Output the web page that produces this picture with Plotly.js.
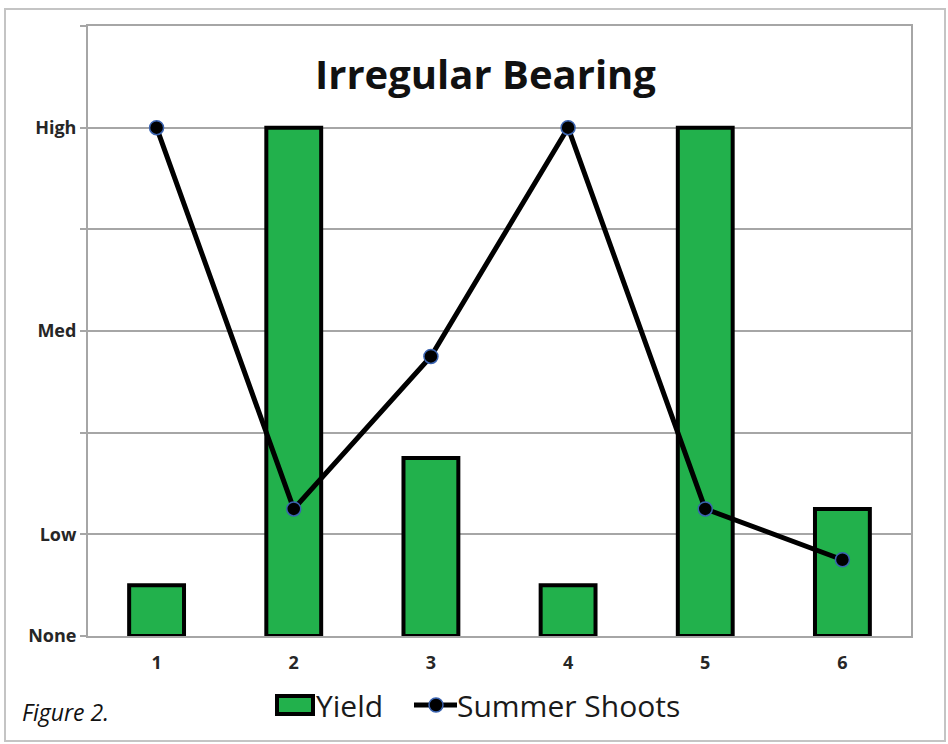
<!DOCTYPE html>
<html>
<head>
<meta charset="utf-8">
<script src="https://cdn.plot.ly/plotly-3.0.1.min.js"></script>
<style>
html,body{margin:0;padding:0;background:#fff;}
#wrap{position:relative;width:948px;height:744px;}
#chart{width:948px;height:744px;}
#frame{position:absolute;left:4px;top:8px;width:938px;height:730px;border:2px solid #c4c4c4;pointer-events:none;}
</style>
</head>
<body>
<div id="wrap"><div id="chart"></div><div id="frame"></div></div>
<script>
const years = ['1','2','3','4','5','6'];
const yieldValues = [0.5, 5, 1.75, 0.5, 5, 1.25];
const shootValues = [5, 1.25, 2.75, 5, 1.25, 0.75];
const levelValues = [0, 1, 2, 3, 4, 5, 6];
const levelLabels = ['None', 'Low', '', 'Med', '', 'High', ''];

const barColor = '#22b14c';
const PL = 88, PR = 37, PT = 26, PB = 108, W = 948, H = 744;
const pw = W - PL - PR, ph = H - PT - PB;
const px = v => (v - PL) / pw;
const py = v => (H - PB - v) / ph;

const traces = [
  {
    type: 'bar', name: 'Yield', x: years, y: yieldValues, width: 0.4,
    marker: {color: barColor, line: {color: '#000', width: 4}}
  },
  {
    type: 'scatter', mode: 'lines+markers', name: 'Summer Shoots', x: years, y: shootValues,
    line: {color: '#000', width: 5},
    marker: {color: '#000', size: 14, line: {color: '#3a63b0', width: 1.5}}
  }
];

const legY = 705;
const layout = {
  width: W, height: H,
  margin: {l: PL, r: PR, t: PT, b: PB},
  paper_bgcolor: '#fff', plot_bgcolor: '#fff',
  font: {family: 'Open Sans, sans-serif', color: '#1a1a1a'},
  title: {
    text: '<b>Irregular Bearing</b>',
    font: {size: 40, family: 'Open Sans, sans-serif', color: '#111'},
    x: 0.483, xanchor: 'center', xref: 'paper',
    y: 0.92, yanchor: 'middle', yref: 'paper'
  },
  showlegend: false,
  xaxis: {
    type: 'category', range: [-0.5, 5.5],
    showgrid: false, showline: true, linecolor: '#a6a6a6', linewidth: 2, mirror: true,
    ticks: '', tickfont: {size: 18, weight: 'bold', color: '#262626'}, ticklabelstandoff: 9
  },
  yaxis: {
    range: [0, 6], tickmode: 'array', tickvals: levelValues, ticktext: levelLabels,
    showgrid: true, gridcolor: '#a6a6a6', gridwidth: 2,
    showline: true, linecolor: '#a6a6a6', linewidth: 2, mirror: true,
    ticks: 'outside', ticklen: 6, tickcolor: '#a6a6a6', tickwidth: 2,
    tickfont: {size: 18, weight: 'bold', color: '#262626'}, zeroline: false, ticklabelstandoff: 0
  },
  shapes: [
    {type: 'rect', xref: 'paper', yref: 'paper', x0: px(277), x1: px(313), y0: py(714), y1: py(696),
     fillcolor: barColor, line: {color: '#000', width: 4}},
    {type: 'line', xref: 'paper', yref: 'paper', x0: px(414), x1: px(457), y0: py(legY), y1: py(legY),
     line: {color: '#000', width: 5}},
    {type: 'circle', xref: 'paper', yref: 'paper', x0: px(429), x1: px(443), y0: py(712), y1: py(698),
     fillcolor: '#000', line: {color: '#3a63b0', width: 1.5}}
  ],
  annotations: [
    {
      text: '<i>Figure 2.</i>', xref: 'paper', yref: 'paper',
      x: px(20), y: py(712), xanchor: 'left', yanchor: 'middle', showarrow: false,
      font: {size: 23, color: '#111', family: 'Open Sans, sans-serif'}
    },
    {
      text: 'Yield', xref: 'paper', yref: 'paper',
      x: px(314), y: py(legY), xanchor: 'left', yanchor: 'middle', showarrow: false,
      font: {size: 30, color: '#1a1a1a', family: 'Open Sans, sans-serif'}
    },
    {
      text: 'Summer Shoots', xref: 'paper', yref: 'paper',
      x: px(455), y: py(legY), xanchor: 'left', yanchor: 'middle', showarrow: false,
      font: {size: 30, color: '#1a1a1a', family: 'Open Sans, sans-serif'}
    }
  ]
};

Plotly.newPlot('chart', traces, layout, {displayModeBar: false, staticPlot: true});
</script>
</body>
</html>
